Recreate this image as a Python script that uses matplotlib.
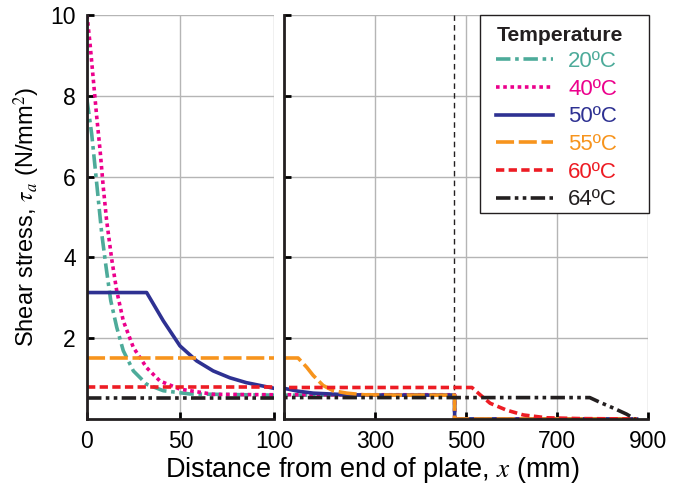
import numpy as np
import matplotlib
matplotlib.use("Agg")
import matplotlib.pyplot as plt
from matplotlib.patches import Rectangle

plt.rcParams['font.family'] = ['Liberation Sans', 'DejaVu Sans']
plt.rcParams['mathtext.fontset'] = 'stix'

# ---- data (distance x in mm, shear stress in N/mm^2) ----
x20 = [0, 2.5, 4.3, 6.1, 7.9, 10.2, 12.7, 15.9, 19.4, 24.8, 31.9, 40.8, 55, 100, 200, 300, 400, 475, 475, 875]
y20 = [7.9, 7.06, 6.24, 5.41, 4.58, 3.76, 2.93, 2.27, 1.69, 1.19, 0.86, 0.70, 0.62, 0.59, 0.59, 0.59, 0.59, 0.59, 0, 0]

x40 = [0, 1.6, 3.4, 5.2, 7.0, 8.7, 10.5, 13.2, 15.9, 19.4, 24.8, 31.9, 39, 49.7, 67.6, 100, 200, 300, 400, 475, 475, 875]
y40 = [10, 9.3, 8.39, 7.48, 6.65, 5.74, 4.91, 3.96, 3.17, 2.43, 1.77, 1.27, 0.94, 0.74, 0.61, 0.6, 0.6, 0.6, 0.6, 0.6, 0, 0]

x50 = [0, 31.9, 40.8, 49.7, 58.6, 67.5, 76.4, 85.2, 100, 130, 164, 238, 300, 400, 475, 475, 875]
y50 = [3.13, 3.13, 2.43, 1.81, 1.44, 1.19, 1.02, 0.90, 0.76, 0.69, 0.64, 0.60, 0.59, 0.59, 0.59, 0, 0]

x55 = [0, 131, 150, 164, 186, 208, 238, 274, 350, 475, 475, 875]
y55 = [1.51, 1.51, 1.28, 1.08, 0.83, 0.70, 0.64, 0.60, 0.59, 0.59, 0, 0]

x60 = [0, 513, 531, 553, 589, 626, 677, 751, 875]
y60 = [0.78, 0.78, 0.60, 0.39, 0.22, 0.10, 0.03, 0.01, 0]

x64 = [0, 772, 795, 824, 853, 871]
y64 = [0.53, 0.53, 0.41, 0.27, 0.12, 0.0]

labels = ['20ºC', '40ºC', '50ºC', '55ºC', '60ºC', '64ºC']
colors = ['#4dab9a', '#ec008c', '#2e3192', '#f7941d', '#ed1c24', '#231f20']
styles = [(0, (4, 1.3, 1, 1.3)), (0, (1, 1)), '-', (0, (5, 1.3)),
          (0, (2.3, 1.2)), (0, (4, 1.2, 1, 1.2, 1, 1.2))]
series = [(x20, y20), (x40, y40), (x50, y50), (x55, y55), (x60, y60), (x64, y64)]
plate_end = 474

W, H = 674, 492
fig = plt.figure(figsize=(W / 100, H / 100), dpi=100)
ax1 = fig.add_axes([87 / W, 1 - 419 / H, 187 / W, 404 / H])
ax2 = fig.add_axes([284 / W, 1 - 419 / H, 364 / W, 404 / H])

handles = []
for ax in (ax1, ax2):
    for (xs, ys), c, ls, lab in zip(series, colors, styles, labels):
        h, = ax.plot(xs, ys, color=c, linestyle=ls, lw=2.6, label=lab,
                     dash_capstyle='butt')
        if ax is ax2:
            handles.append(h)
    ax.set_ylim(0, 10)
    ax.set_yticks([2, 4, 6, 8, 10])
    ax.grid(True, color='#b5b5b5', lw=1)
    ax.set_axisbelow(True)
    for s in ('top', 'right'):
        ax.spines[s].set_visible(False)
    for s in ('left', 'bottom'):
        ax.spines[s].set_linewidth(2)
        ax.spines[s].set_color('#231f20')
    ax.tick_params(direction='in', length=5, width=2, labelsize=16.5, pad=8)

ax1.set_xlim(0, 100)
ax1.set_xticks([0, 50, 100])
ax1.set_ylabel(r'Shear stress, $\tau_a$ (N/mm$^2$)', fontsize=17, labelpad=6)

ax2.set_xlim(100, 900)
ax2.set_xticks([100, 300, 500, 700, 900])
ax2.set_xticklabels(['', '300', '500', '700', '900'])
ax2.tick_params(labelleft=False)
ax2.axvline(plate_end, color='#231f20', lw=1, linestyle=(0, (4, 3)), zorder=1)

fig.text(372 / W, 1 - 470 / H, r'Distance from end of plate, $x$ (mm)',
         ha='center', va='center', fontsize=19.5)

# legend frame and title drawn by hand (box about x = 480..649 px, y = 15..213 px)
frame = Rectangle((480 / W, 1 - 213 / H), 169 / W, 198 / H,
                  transform=fig.transFigure, facecolor='white',
                  edgecolor='#231f20', lw=1, zorder=4.9, clip_on=False)
ax2.add_patch(frame)
fig.text(497 / W, 1 - 41 / H, 'Temperature', fontsize=15.2, weight='bold',
         ha='left', va='baseline', color='#231f20', zorder=6)
leg = ax2.legend(handles=handles, loc='upper left',
                 bbox_to_anchor=(496 / W, 1 - 51 / H),
                 bbox_transform=fig.transFigure, frameon=False,
                 borderpad=0, borderaxespad=0, fontsize=16,
                 handlelength=2.57, handletextpad=0.68, labelspacing=0.3)
for txt, c in zip(leg.get_texts(), colors):
    txt.set_color(c)

fig.savefig('out.png', dpi=100)
